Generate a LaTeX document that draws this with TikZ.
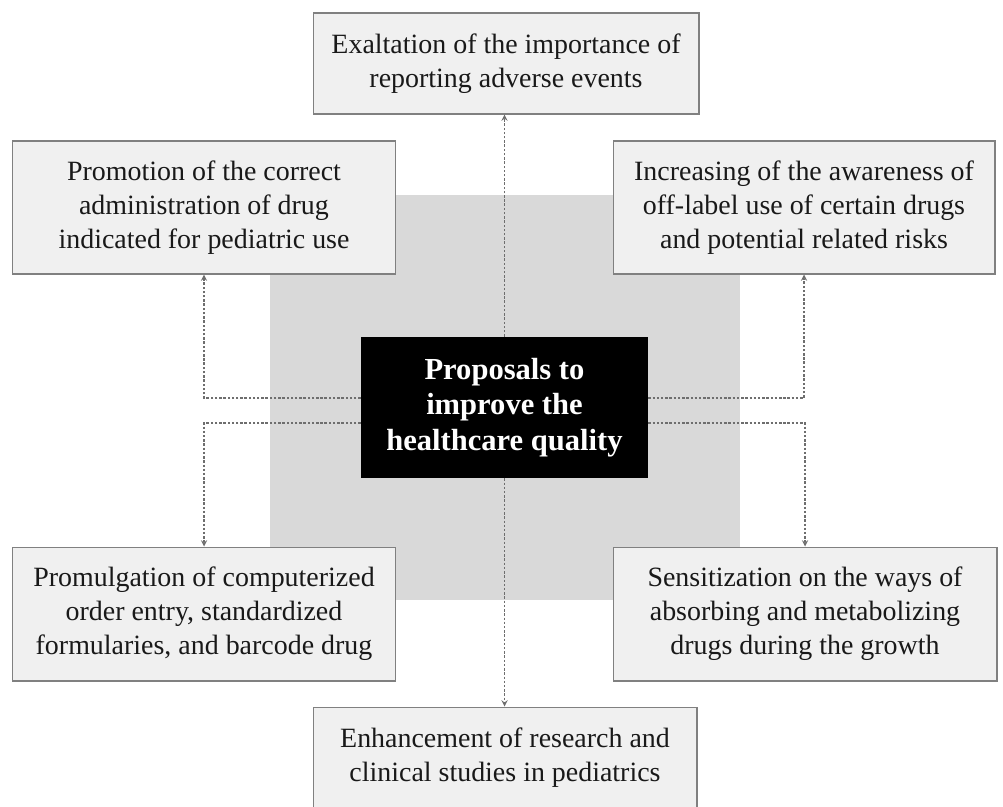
\documentclass[tikz,border=0pt]{standalone}
\usepackage{fontspec}
\setmainfont{Liberation Serif}
\usepackage{xcolor}
\usepackage{tikz}

\definecolor{boxfill}{HTML}{F0F0F0}
\definecolor{boxline}{HTML}{808080}
\definecolor{panel}{HTML}{D9D9D9}
\definecolor{linkgray}{HTML}{6E6E6E}

\begin{document}
\begin{tikzpicture}[x=0.02cm, y=-0.02cm,
    idea/.style={draw=boxline, line width=0.6pt, fill=boxfill, align=center,
        inner sep=0pt, text=black!90,
        font=\fontsize{15.9}{19.4}\selectfont},
    core/.style={fill=black, align=center, inner sep=0pt, text=white,
        minimum width=5.74cm, minimum height=2.82cm,
        font=\fontsize{17.4}{20.2}\selectfont\bfseries},
    link/.style={draw=linkgray, line width=0.6pt, dash pattern=on 1.4pt off 1pt,
        ->, >=stealth}]
    \clip (0,0) rectangle (1003,806);
    \fill[white] (0,0) rectangle (1003,806);
    % grey panel behind the centre
    \fill[panel] (270,195) rectangle (740,600);
    \node[core] (cen) at (504.5,407.5) {Proposals to\\improve the\\healthcare quality};
    % the six proposals
    \node[idea, minimum width=7.72cm, minimum height=2.02cm] (top) at (506,63.5)
        {Exaltation of the importance of\\reporting adverse events};
    \node[idea, minimum width=7.68cm, minimum height=2.66cm] (pl) at (204,207.5)
        {Promotion of the correct\\administration of drug\\indicated for pediatric use};
    \node[idea, minimum width=7.64cm, minimum height=2.66cm] (tr) at (804,207.5)
        {Increasing of the awareness of\\off-label use of certain drugs\\and potential related risks};
    \node[idea, minimum width=7.68cm, minimum height=2.68cm] (bl) at (204,614)
        {Promulgation of computerized\\order entry, standardized\\formularies, and barcode drug};
    \node[idea, minimum width=7.68cm, minimum height=2.68cm] (br) at (805,614)
        {Sensitization on the ways of\\absorbing and metabolizing\\drugs during the growth};
    \node[idea, minimum width=7.68cm, minimum height=2.02cm] (bot) at (505,757.5)
        {Enhancement of research and\\clinical studies in pediatrics};
    % dotted links from the centre
    \draw[link] (cen.north) -- (cen.north |- top.south);
    \draw[link] (cen.south) -- (cen.south |- bot.north);
    \draw[link] ([yshift=0.19cm]cen.west) -| (pl.south);
    \draw[link] ([yshift=-0.31cm]cen.west) -| (bl.north);
    \draw[link] ([yshift=0.19cm]cen.east) -| (tr.south);
    \draw[link] ([yshift=-0.31cm]cen.east) -| (br.north);
\end{tikzpicture}
\end{document}
